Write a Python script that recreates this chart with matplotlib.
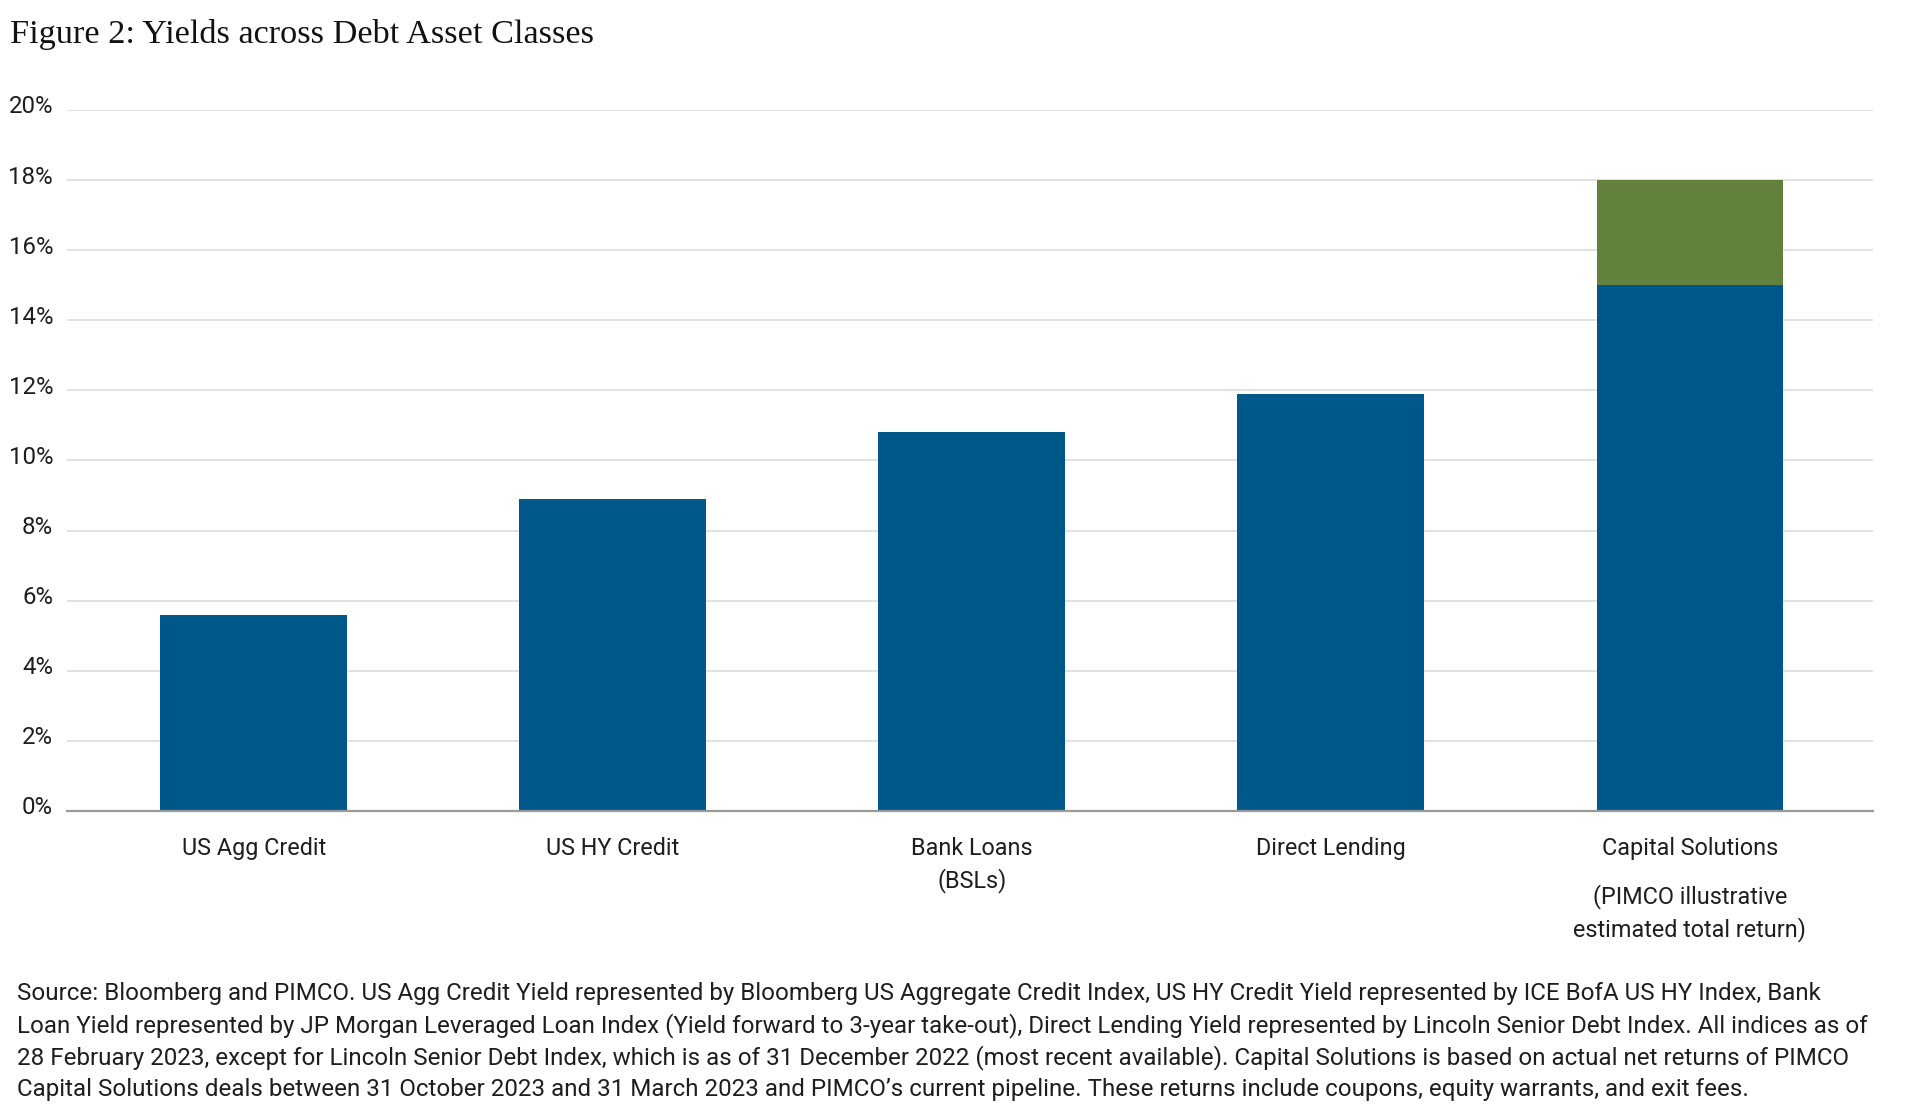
import matplotlib
matplotlib.use("Agg")
import matplotlib.pyplot as plt
import matplotlib.transforms as mtransforms
from matplotlib.ticker import FuncFormatter, MultipleLocator

# ---- data ----
categories = ["US Agg Credit", "US HY Credit", "Bank Loans\n(BSLs)", "Direct Lending", "Capital Solutions"]
base_yield = [5.6, 8.9, 10.8, 11.9, 15.0]
upside = [0, 0, 0, 0, 3.0]
cap_note = "(PIMCO illustrative\nestimated total return)"
title = "Figure 2: Yields across Debt Asset Classes"
source = ("Source: Bloomberg and PIMCO. US Agg Credit Yield represented by Bloomberg US Aggregate Credit Index, US HY Credit Yield represented by ICE BofA US HY Index, Bank\n"
          "Loan Yield represented by JP Morgan Leveraged Loan Index (Yield forward to 3-year take-out), Direct Lending Yield represented by Lincoln Senior Debt Index. All indices as of\n"
          "28 February 2023, except for Lincoln Senior Debt Index, which is as of 31 December 2022 (most recent available). Capital Solutions is based on actual net returns of PIMCO\n"
          "Capital Solutions deals between 31 October 2023 and 31 March 2023 and PIMCO\u2019s current pipeline. These returns include coupons, equity warrants, and exit fees.")

BLUE = "#00578A"
GREEN = "#62813D"
TXT = "#1e1e1e"

plt.rcParams['font.family'] = ['Roboto', 'DejaVu Sans']

fig = plt.figure(figsize=(19.2, 11.17), dpi=100)
ax = fig.add_axes([0.0349, 0.274, 0.9755 - 0.0349, 0.9015 - 0.274])

x = list(range(len(categories)))
ax.bar(x, base_yield, width=0.52, color=BLUE, zorder=3)
ax.bar(x, upside, width=0.52, bottom=base_yield, color=GREEN, zorder=3)

ax.set_ylim(0, 20)
ax.set_xlim(-0.52, 4.51)
ax.yaxis.set_major_locator(MultipleLocator(2))
ax.yaxis.set_major_formatter(FuncFormatter(lambda v, p: f"{v:.0f}%"))
ax.grid(axis='y', color='#d9d9d9', linewidth=1.1, zorder=0)
ax.set_axisbelow(True)
for s in ['top', 'right', 'left']:
    ax.spines[s].set_visible(False)
ax.spines['bottom'].set_color('#9a9a9a')
ax.spines['bottom'].set_linewidth(1.6)
ax.spines['bottom'].set_zorder(4)

ax.set_xticks(x)
ax.set_xticklabels(categories, fontsize=16.8, color=TXT, linespacing=1.38)
ax.tick_params(axis='x', length=0, pad=19)
ax.tick_params(axis='y', length=0, pad=10, labelsize=17.3, labelcolor=TXT)
offset = mtransforms.ScaledTranslation(0, 4 / 72, fig.dpi_scale_trans)
for lab in ax.get_yticklabels():
    lab.set_transform(lab.get_transform() + offset)

ax.text(4, -0.105, cap_note, transform=mtransforms.blended_transform_factory(ax.transData, ax.transAxes),
        ha='center', va='top', fontsize=16.8, color=TXT, linespacing=1.38)

fig.text(10 / 1920, 1 - 35 / 1117, title, fontsize=24.7, family=['Liberation Serif', 'DejaVu Serif'],
         color='#111111', ha='left', va='center')

fig.text(17 / 1920, 1 - 982 / 1117, source, fontsize=17.4, color=TXT, ha='left', va='top', linespacing=1.4)

fig.savefig("out.png", dpi=100, facecolor='white')
